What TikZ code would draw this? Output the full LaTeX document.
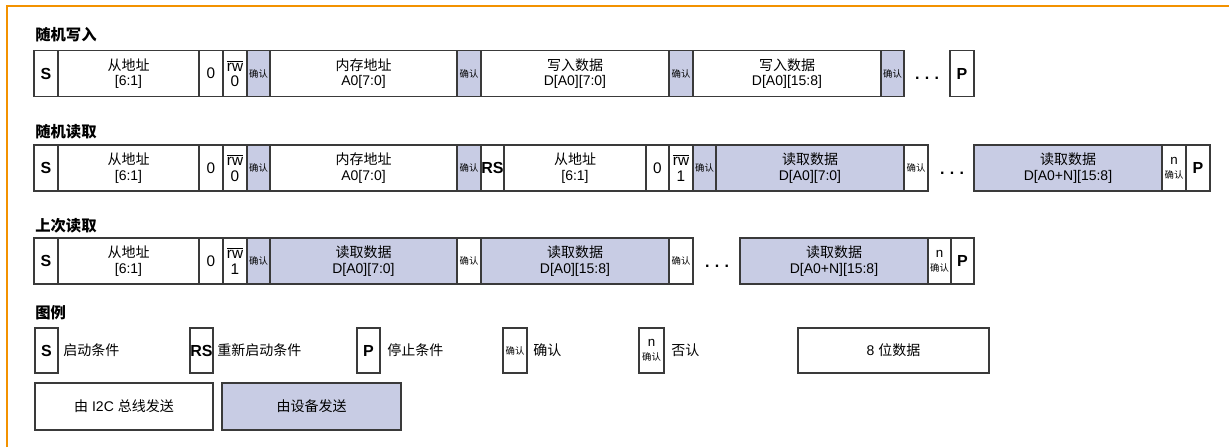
\documentclass[tikz,border=0pt]{standalone}
\usepackage{fontspec}
\setmainfont{Liberation Sans}
\newfontfamily\cjk{Noto Sans CJK SC}
\newcommand\zh[1]{{\cjk #1}}
\definecolor{shade}{HTML}{C8CCE4}
\definecolor{edge}{HTML}{3A3A3A}
\definecolor{frameorange}{HTML}{F39200}
\newcommand\rowy{0}
\newcommand\rowh{34.5}
\newcommand\cb[5]{%
  \pgfmathsetmacro\cw{(#3-#2)*0.75}%
  \pgfmathsetmacro\cx{(#2+#3)/2}%
  \node[cell,#4,minimum width=\cw pt,minimum height=\rowh pt] (#1) at (\cx,\rowy) {#5};}
\newcommand\ack{\fontsize{7}{8}\selectfont\zh{确认}}
\newcommand\nack{\fontsize{10}{9}\selectfont n\\[-1pt]\fontsize{7}{8}\selectfont\zh{确认}}
\newcommand\rwbar{$\overline{\mbox{rw}}$}
\newcommand\slv{\zh{从地址}\\{}[6:1]}
\begin{document}
\begin{tikzpicture}[x=0.75pt,y=-0.75pt,
  cell/.style={draw=edge,line width=0.9pt,inner sep=0pt,align=center,
    font=\fontsize{10.5}{11.5}\selectfont,text=black},
  dev/.style={fill=shade},
  big/.style={font=\fontsize{12}{12}\selectfont\bfseries},
  mid/.style={font=\fontsize{11.5}{10}\selectfont},
  title/.style={anchor=west,inner sep=0pt,font=\fontsize{11.5}{12}\selectfont\cjk\bfseries},
  lbl/.style={anchor=west,inner sep=0pt,font=\fontsize{10.5}{12}\selectfont\cjk},
  dotsn/.style={inner sep=0pt,font=\fontsize{12}{12}\selectfont\bfseries}]
\useasboundingbox (0,0) rectangle (1229,447);
\fill[white] (0,0) rectangle (1229,447);
\draw[frameorange,line width=1.5pt] (7,447) -- (7,6) -- (1229,6);

% ---- row 1
\node[title] (t1) at (35,35) {随机写入};
\renewcommand\rowy{73.5}
\cb{s1}{34}{58}{big}{S}
\cb{a1}{58}{199}{}{\slv}
\cb{z1}{199}{223}{mid}{0}
\cb{w1}{223}{247}{mid}{\rwbar\\[1.5pt]0}
\cb{k1}{247}{270}{dev}{\ack}
\cb{m1}{270}{457}{}{\zh{内存地址}\\A0[7:0]}
\cb{k2}{457}{481}{dev}{\ack}
\cb{d1}{481}{669}{}{\zh{写入数据}\\D[A0][7:0]}
\cb{k3}{669}{693}{dev}{\ack}
\cb{d2}{693}{881}{}{\zh{写入数据}\\D[A0][15:8]}
\cb{k4}{881}{904}{dev}{\ack}
\node[dotsn] (e1) at (927,78) {.\,\,.\,\,.};
\cb{p1}{950}{974}{big}{P}

% ---- row 2
\node[title] (t2) at (35,132) {随机读取};
\renewcommand\rowy{168}
\cb{s2}{34}{58}{big}{S}
\cb{a2}{58}{199}{}{\slv}
\cb{z2}{199}{223}{mid}{0}
\cb{w2}{223}{247}{mid}{\rwbar\\[1.5pt]0}
\cb{k5}{247}{270}{dev}{\ack}
\cb{m2}{270}{457}{}{\zh{内存地址}\\A0[7:0]}
\cb{k6}{457}{481}{dev}{\ack}
\cb{rs}{481}{504}{big}{RS}
\cb{a3}{504}{646}{}{\slv}
\cb{z3}{646}{669}{mid}{0}
\cb{w3}{669}{693}{mid}{\rwbar\\[1.5pt]1}
\cb{k7}{693}{716}{dev}{\ack}
\cb{r1}{716}{904}{dev}{\zh{读取数据}\\D[A0][7:0]}
\cb{k8}{904}{928}{}{\ack}
\node[dotsn] (e2) at (952,173) {.\,\,.\,\,.};
\cb{r2}{974}{1162}{dev}{\zh{读取数据}\\D[A0+N][15:8]}
\cb{n1}{1162}{1186}{}{\nack}
\cb{p2}{1186}{1210}{big}{P}

% ---- row 3
\node[title] (t3) at (35,226) {上次读取};
\renewcommand\rowy{261}
\cb{s3}{34}{58}{big}{S}
\cb{a4}{58}{199}{}{\slv}
\cb{z4}{199}{223}{mid}{0}
\cb{w4}{223}{247}{mid}{\rwbar\\[1.5pt]1}
\cb{k9}{247}{270}{dev}{\ack}
\cb{r3}{270}{457}{dev}{\zh{读取数据}\\D[A0][7:0]}
\cb{k10}{457}{481}{}{\ack}
\cb{r4}{481}{669}{dev}{\zh{读取数据}\\D[A0][15:8]}
\cb{k11}{669}{693}{}{\ack}
\node[dotsn] (e3) at (717,266) {.\,\,.\,\,.};
\cb{r5}{740}{928}{dev}{\zh{读取数据}\\D[A0+N][15:8]}
\cb{n2}{928}{951}{}{\nack}
\cb{p3}{951}{974}{big}{P}

% ---- legend
\node[title] (t4) at (35,313) {图例};
\renewcommand\rowy{350.5}
\renewcommand\rowh{33.75}
\cb{ls}{35}{58}{big}{S}
\node[lbl] (lsl) at (63,\rowy) {启动条件};
\cb{lrs}{190}{213}{big}{RS}
\node[lbl] (lrsl) at (217,\rowy) {重新启动条件};
\cb{lp}{357}{380}{big}{P}
\node[lbl] (lpl) at (387,\rowy) {停止条件};
\cb{lk}{503}{527}{}{\ack}
\node[lbl] (lkl) at (533,\rowy) {确认};
\cb{ln}{639}{664}{}{\nack}
\node[lbl] (lnl) at (671,\rowy) {否认};
\cb{l8}{798}{989}{}{8 \zh{位数据}}
\renewcommand\rowy{406.5}
\renewcommand\rowh{35.25}
\cb{lm}{35}{213}{}{\zh{由} I2C \zh{总线发送}}
\cb{ld}{222}{401}{dev}{\zh{由设备发送}}
\end{tikzpicture}
\end{document}
